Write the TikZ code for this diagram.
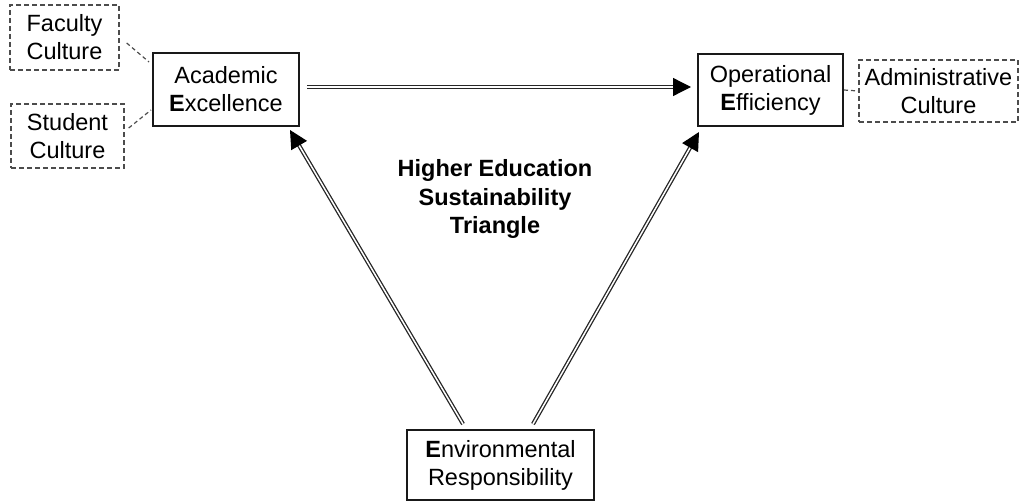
\documentclass[tikz,border=0pt]{standalone}
\usepackage{fontspec}
\setmainfont{Liberation Sans}
\usetikzlibrary{arrows.meta}
\begin{document}
\begin{tikzpicture}[x=1pt,y=-1pt,
  font=\fontsize{23.5}{28}\selectfont,
  pillar/.style={draw=black!90, line width=2pt, align=center, inner sep=0pt},
  culture/.style={draw=black!70, line width=1.4pt, dash pattern=on 5pt off 3pt, align=center, inner sep=0pt},
  link/.style={draw=black!70, line width=1.2pt, dash pattern=on 4pt off 3pt},
  dblarrow/.style={double=white, double distance=1.5pt, line width=1.3pt, draw=black!85,
    -{Triangle[length=18pt,width=18pt,fill=black,color=black]}}
]
\useasboundingbox (0,0) rectangle (1023,503);

% the three pillars
\node[pillar, minimum width=146pt, minimum height=73pt] (ae) at (226,89.5)
  {Academic\\\textbf{E}xcellence};
\node[pillar, minimum width=145pt, minimum height=72pt] (oe) at (770.5,90)
  {Operational\\\textbf{E}fficiency};
\node[pillar, minimum width=187pt, minimum height=70pt] (er) at (500.5,465)
  {\textbf{E}nvironmental\\Responsibility};

% cultures attached to the pillars
\node[culture, minimum width=109pt, minimum height=65pt] (fc) at (64.5,37.5) {Faculty\\Culture};
\node[culture, minimum width=113pt, minimum height=64pt] (sc) at (67.5,136) {Student\\Culture};
\node[culture, minimum width=159pt, minimum height=62pt] (ac) at (938.5,91) {Administrative\\Culture};

\draw[link] ([xshift=7pt,yshift=-5.5pt]fc.east) -- ([xshift=-3pt,yshift=-10pt]ae.north west);
\draw[link] ([xshift=4pt,yshift=8pt]sc.east) -- ([xshift=-1pt,yshift=17pt]ae.south west);
\draw[link] (oe.east) -- (ac.west);

% triangle of relations
\draw[dblarrow] ([xshift=7pt,yshift=2.5pt]ae.east) -- ([xshift=-6pt,yshift=3pt]oe.west);
\draw[dblarrow] ([xshift=-37.5pt,yshift=5pt]er.north) -- ([xshift=-10pt,yshift=-3pt]ae.south east);
\draw[dblarrow] ([xshift=32.5pt,yshift=5pt]er.north) -- ([xshift=2pt,yshift=-5pt]oe.south west);

% title
\node[align=center, font=\fontsize{23.5}{28.5}\selectfont\bfseries] (title) at (495,199)
  {Higher Education\\Sustainability\\Triangle};
\end{tikzpicture}
\end{document}
